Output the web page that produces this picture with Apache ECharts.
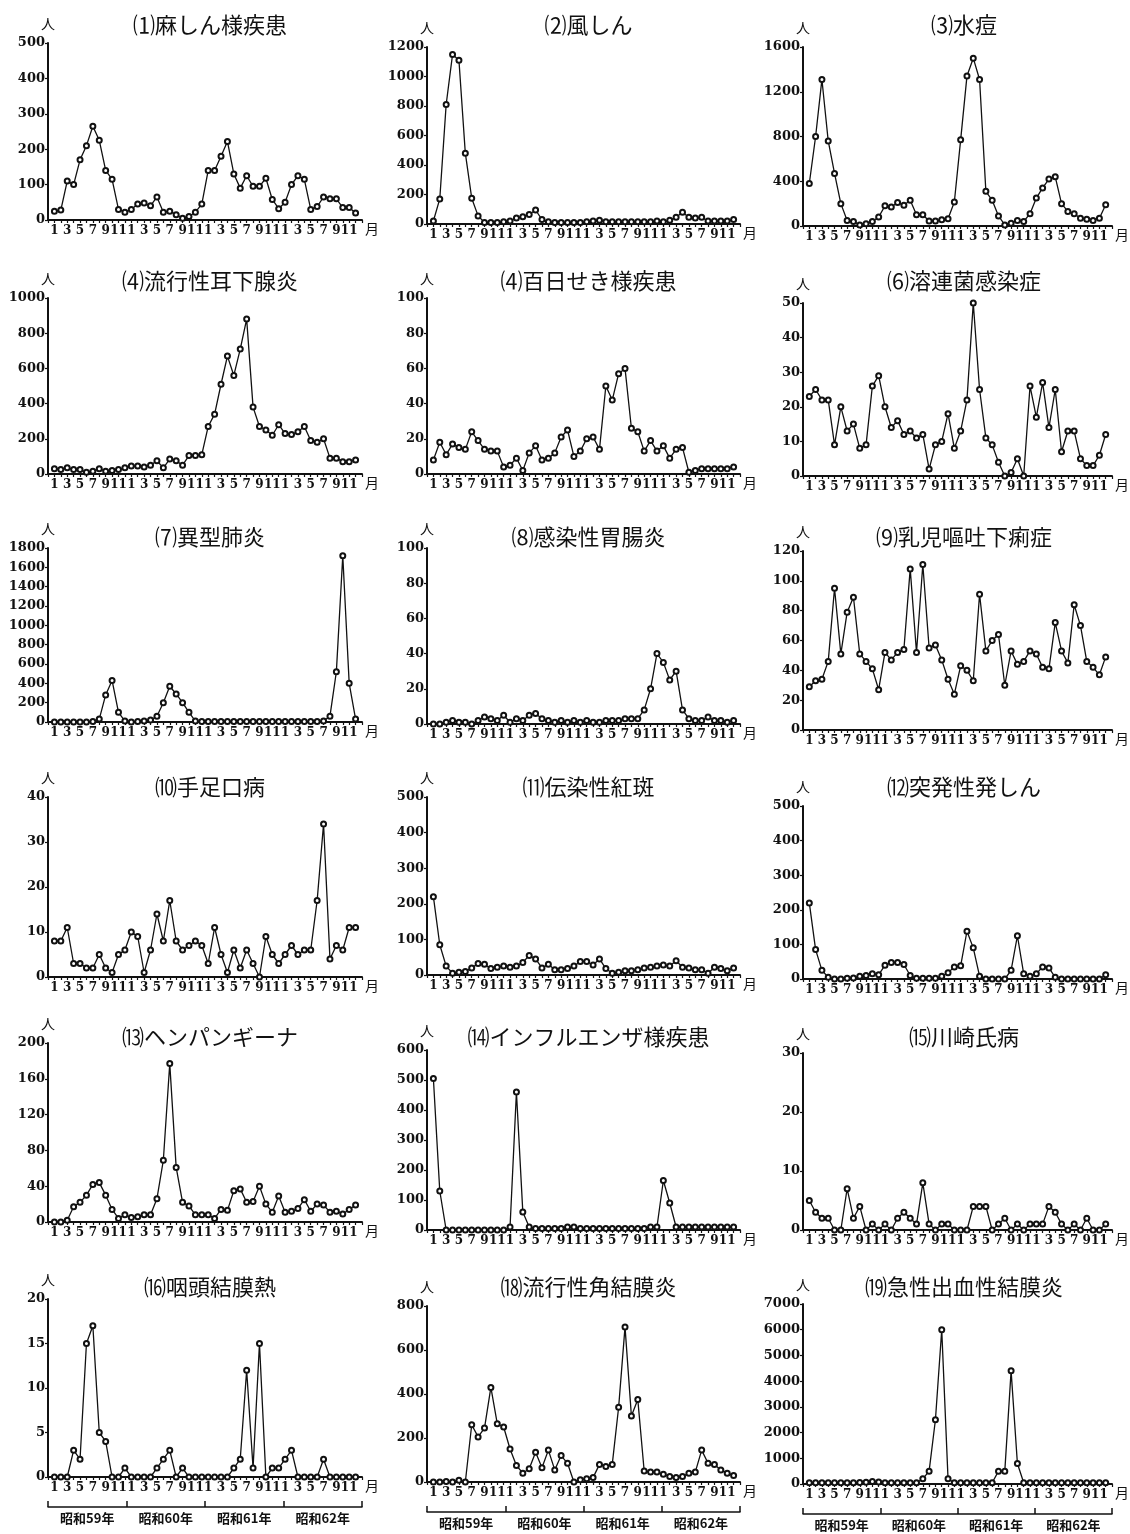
<!DOCTYPE html>
<html><head><meta charset="utf-8">
<script src="https://cdn.jsdelivr.net/npm/echarts@6/dist/echarts.min.js"></script>
<style>html,body{margin:0;padding:0;background:#fff}#c{width:1130px;height:1534px}</style>
</head><body><div id="c"></div>
<script>
// ---- categories / tick labels ----
const years = ['59','60','61','62'];
const months = ['1','2','3','4','5','6','7','8','9','10','11','12'];
const yearLabels = ['昭和59年','昭和60年','昭和61年','昭和62年'];

// ---- panel titles ----
const titles = ['⑴麻しん様疾患','⑵風しん','⑶水痘','⑷流行性耳下腺炎','⑷百日せき様疾患','⑹溶連菌感染症',
  '⑺異型肺炎','⑻感染性胃腸炎','⑼乳児嘔吐下痢症','⑽手足口病','⑾伝染性紅斑','⑿突発性発しん',
  '⒀ヘンパンギーナ','⒁インフルエンザ様疾患','⒂川崎氏病','⒃咽頭結膜熱','⒅流行性角結膜炎','⒆急性出血性結膜炎'];
const yMax  = [500,1200,1600,1000,100,50,1800,100,120,40,500,500,200,600,30,20,800,7000];
const yStep = [100,200,400,200,20,10,200,20,20,10,100,100,40,100,10,5,200,1000];

// ---- series values (monthly, 昭和59年1月 – 昭和62年12月) ----
const measles = [25,28,110,100,170,210,265,225,140,115,30,22, 30,45,48,40,65,22,25,15,5,10,22,45, 140,140,180,222,130,90,125,95,95,118,58,32, 50,100,125,115,30,38,65,60,60,35,35,20];
const rubella = [20,170,810,1150,1110,480,175,55,10,10,10,15, 20,40,50,65,95,30,15,10,10,10,10,10, 15,20,25,15,15,15,15,15,15,15,15,20, 15,25,45,80,45,40,45,20,20,20,20,30];
const varicella = [380,800,1310,760,470,200,50,40,10,20,40,80, 180,170,210,185,230,100,100,45,45,55,65,215, 770,1340,1500,1310,310,230,90,10,25,50,40,110, 250,340,420,440,200,130,110,70,60,50,70,190];
const mumps = [30,25,35,25,25,10,15,30,15,20,25,35, 45,45,40,50,75,35,85,75,50,105,105,110, 270,340,510,670,560,710,880,380,270,250,220,280, 230,225,240,270,190,180,200,90,90,70,70,80];
const pertussis = [8,18,11,17,15,14,24,19,14,13,13,4, 5,9,2,12,16,8,9,12,21,25,10,13, 20,21,14,50,42,57,60,26,24,13,19,13, 16,9,14,15,1,2,3,3,3,3,3,4];
const strep = [23,25,22,22,9,20,13,15,8,9,26,29, 20,14,16,12,13,11,12,2,9,10,18,8, 13,22,50,25,11,9,4,0,1,5,0,26, 17,27,14,25,7,13,13,5,3,3,6,12];
const mycoplasma = [0,0,0,0,0,0,5,30,280,430,100,10, 0,5,10,20,60,200,370,290,200,100,10,5, 5,5,5,5,5,5,5,5,5,5,5,5, 5,5,5,5,5,5,10,60,520,1720,400,30];
const gastro = [0,0,1,2,1,1,0,2,4,3,2,5, 1,3,2,5,6,3,2,1,2,1,2,1, 2,1,1,2,2,2,3,3,3,8,20,40, 35,25,30,8,3,2,2,4,2,2,1,2];
const infantDiarrhea = [29,33,34,46,95,51,79,89,51,46,41,27, 52,47,52,54,108,52,111,55,57,47,34,24, 43,40,33,91,53,60,64,30,53,44,46,53, 51,42,41,72,53,45,84,70,46,42,37,49];
const hfmd = [8,8,11,3,3,2,2,5,2,1,5,6, 10,9,1,6,14,8,17,8,6,7,8,7, 3,11,5,1,6,2,6,3,0,9,5,3, 5,7,5,6,6,17,34,4,7,6,11,11];
const erythema = [220,85,25,5,8,10,20,32,30,18,22,25, 22,25,35,55,45,20,30,15,15,18,25,38, 38,28,45,18,5,8,12,12,15,20,22,25, 28,25,40,22,20,15,15,5,22,18,12,20];
const exanthem = [220,85,25,5,0,0,2,3,8,10,15,12, 40,48,48,42,10,2,2,2,2,8,18,35, 38,138,90,8,0,0,0,0,25,125,15,8, 15,35,32,5,0,0,0,0,0,0,0,12];
const herpangina = [0,0,2,17,22,30,42,44,30,14,4,8, 5,6,8,8,26,69,177,61,22,18,8,8, 8,4,14,13,35,37,22,23,40,20,11,29, 11,12,15,25,12,20,19,11,12,9,14,19];
const influenza = [505,130,0,0,0,0,0,0,0,0,0,0, 10,460,60,10,5,5,5,5,5,10,10,5, 5,5,5,5,5,5,5,5,5,5,10,10, 165,90,10,10,10,10,10,10,10,10,10,10];
const kawasaki = [5,3,2,2,0,0,7,2,4,0,1,0, 1,0,2,3,2,1,8,1,0,1,1,0, 0,0,4,4,4,0,1,2,0,1,0,1, 1,1,4,3,1,0,1,0,2,0,0,1];
const pcf = [0,0,0,3,2,15,17,5,4,0,0,1, 0,0,0,0,1,2,3,0,1,0,0,0, 0,0,0,0,1,2,12,1,15,0,1,1, 2,3,0,0,0,0,2,0,0,0,0,0];
const ekc = [0,0,2,0,8,0,260,205,245,430,265,250, 150,75,40,60,135,65,145,55,120,85,0,10, 15,20,80,70,80,340,705,300,375,50,45,45, 35,25,20,25,40,45,145,85,80,55,40,30];
const ahc = [50,50,50,50,50,50,50,50,60,70,100,80, 50,50,50,50,50,50,200,500,2500,6000,200,50, 50,50,50,50,50,50,500,500,4400,800,50,50, 50,50,50,50,50,50,50,50,50,50,50,50];

const seriesValues = [measles,rubella,varicella,mumps,pertussis,strep,mycoplasma,gastro,infantDiarrhea,
  hfmd,erythema,exanthem,herpangina,influenza,kawasaki,pcf,ekc,ahc];
const filledLead = {10:3, 11:3}; // panels whose first points are drawn filled

// ---- layout ----
const cols = [[48,362],[427,740],[803,1115]];
const plotTop = [43,47,47, 298,298,303, 548,548,551, 797,797,806, 1043,1050,1053, 1299,1306,1304];
const plotBottom = [220,224,226, 474,474,476, 722,724,730, 977,975,979, 1222,1230,1230, 1477,1482,1484];
const titleTop = [9,265,521,771,1021,1271];

const cats = [''];
years.forEach(y => months.forEach(m => cats.push(y + '-' + m)));
cats.push('');

const INK = '#111';
const grid=[], xAxis=[], yAxis=[], series=[], title=[];

seriesValues.forEach((vals, i) => {
  const r = Math.floor(i/3), c = i%3;
  const [l, rt] = cols[c];
  grid.push({left:l, top:plotTop[i], width:rt-l, height:plotBottom[i]-plotTop[i], containLabel:false});
  title.push({text:titles[i], left:(l+rt)/2, top:titleTop[r], textAlign:'center',
    textStyle:{fontFamily:'Noto Sans CJK JP', fontWeight:'normal', fontSize:22, color:INK}});
  const xi = xAxis.length;
  xAxis.push({gridIndex:i, type:'category', data:cats, boundaryGap:false,
    axisLine:{lineStyle:{color:INK, width:2}},
    axisTick:{show:true, interval:0, length:3, lineStyle:{color:INK, width:1.2}},
    axisLabel:{interval:(idx)=> idx%2===1, formatter:v => v ? v.split('-')[1] : '',
      fontFamily:'DejaVu Serif', fontWeight:'bold', fontSize:12, color:INK, margin:5},
    name:'月', nameLocation:'end', nameGap:3,
    nameTextStyle:{fontFamily:'Noto Sans CJK JP', fontSize:14, color:INK, verticalAlign:'top', padding:[2,0,0,0]},
    splitLine:{show:false}});
  if (r === 5) {
    xAxis.push({gridIndex:i, type:'category', data:yearLabels, boundaryGap:true, position:'bottom', offset:30,
      axisLine:{lineStyle:{color:INK, width:1.5}},
      axisTick:{show:true, inside:true, length:6, interval:0, lineStyle:{color:INK, width:1.5}},
      axisLabel:{interval:0, fontFamily:'Noto Sans CJK JP', fontWeight:'bold', fontSize:13, color:INK, margin:5},
      splitLine:{show:false}});
  }
  yAxis.push({gridIndex:i, type:'value', min:0, max:yMax[i], interval:yStep[i],
    axisLine:{show:true, lineStyle:{color:INK, width:2}},
    axisTick:{show:true, length:3, lineStyle:{color:INK, width:1.2}},
    axisLabel:{margin:3, formatter:v => String(v), fontFamily:'DejaVu Serif', fontWeight:'bold', fontSize:13, color:INK},
    splitLine:{show:false},
    name:'人', nameLocation:'end', nameGap:12,
    nameTextStyle:{fontFamily:'Noto Sans CJK JP', fontSize:14, color:INK}});
  const lead = filledLead[i] || 0;
  const data = ['-'].concat(vals.map((v, k) => k < lead ? {value:v, itemStyle:{color:INK, borderColor:INK}} : v)).concat(['-']);
  series.push({type:'line', xAxisIndex:xi, yAxisIndex:i, data:data, symbol:'emptyCircle', symbolSize:5,
    showAllSymbol:true, animation:false, silent:true,
    lineStyle:{color:INK, width:1.3}, itemStyle:{color:INK, borderColor:INK, borderWidth:1}});
});

const chart = echarts.init(document.getElementById('c'), null, {renderer:'canvas'});
chart.setOption({backgroundColor:'#fff', animation:false, title, grid, xAxis, yAxis, series});
</script></body></html>
